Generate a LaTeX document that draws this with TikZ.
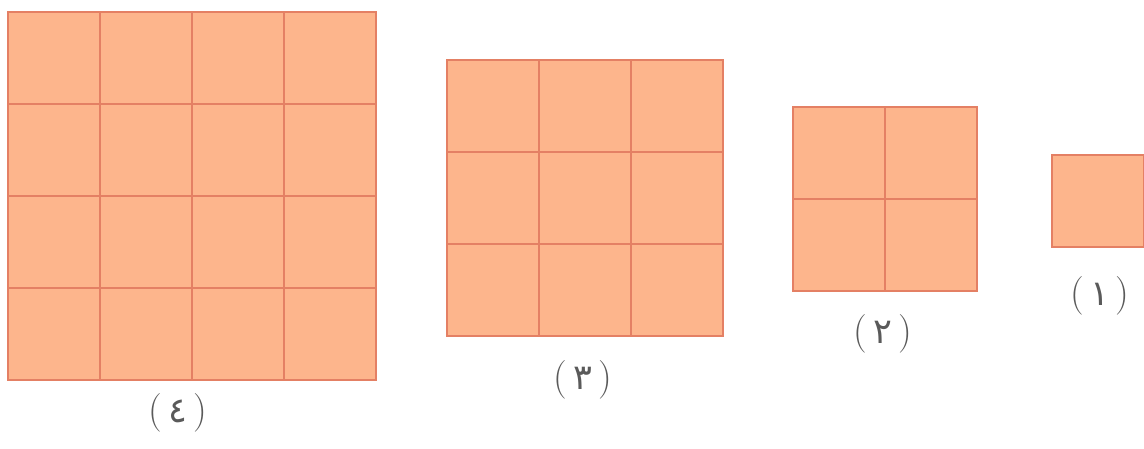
\documentclass[tikz,border=0pt]{standalone}
\usepackage{fontspec}
\usepackage{tikz}
\newfontfamily\arabicfont[Script=Arabic]{DejaVu Sans}
\definecolor{tilefill}{RGB}{253,181,140}
\definecolor{tileline}{RGB}{228,128,100}
\definecolor{labelgray}{RGB}{90,90,90}

\begin{document}
\begin{tikzpicture}[x=0.02cm,y=-0.02cm,
  tile/.style={fill=tilefill,draw=tileline,line width=0.8pt},
  cut/.style={draw=tileline,line width=0.7pt},
  caption/.style={text=labelgray,font=\fontsize{22}{22}\selectfont}]
\useasboundingbox (0,0) rectangle (1144,449);
% squares of side n, cells of 92
\foreach \n/\x/\y in {4/8/12, 3/447/60, 2/793/107, 1/1052/155} {
  \draw[tile] (\x,\y) rectangle ++(\n*92,\n*92);
  \foreach \i in {1,2,3} {
    \ifnum\i<\n
      \draw[cut] (\x+\i*92,\y) -- ++(0,\n*92);
      \draw[cut] (\x,\y+\i*92) -- ++(\n*92,0);
    \fi
  }
}
\node[caption] (lab4) at (178,413) {(\,{\arabicfont\fontsize{20}{20}\selectfont ٤}\,)};
\node[caption] (lab3) at (583,380) {(\,{\arabicfont\fontsize{20}{20}\selectfont ٣}\,)};
\node[caption] (lab2) at (883,334) {(\,{\arabicfont\fontsize{20}{20}\selectfont ٢}\,)};
\node[caption] (lab1) at (1100,296) {(\,{\arabicfont\fontsize{20}{20}\selectfont ١}\,)};
\end{tikzpicture}
\end{document}
